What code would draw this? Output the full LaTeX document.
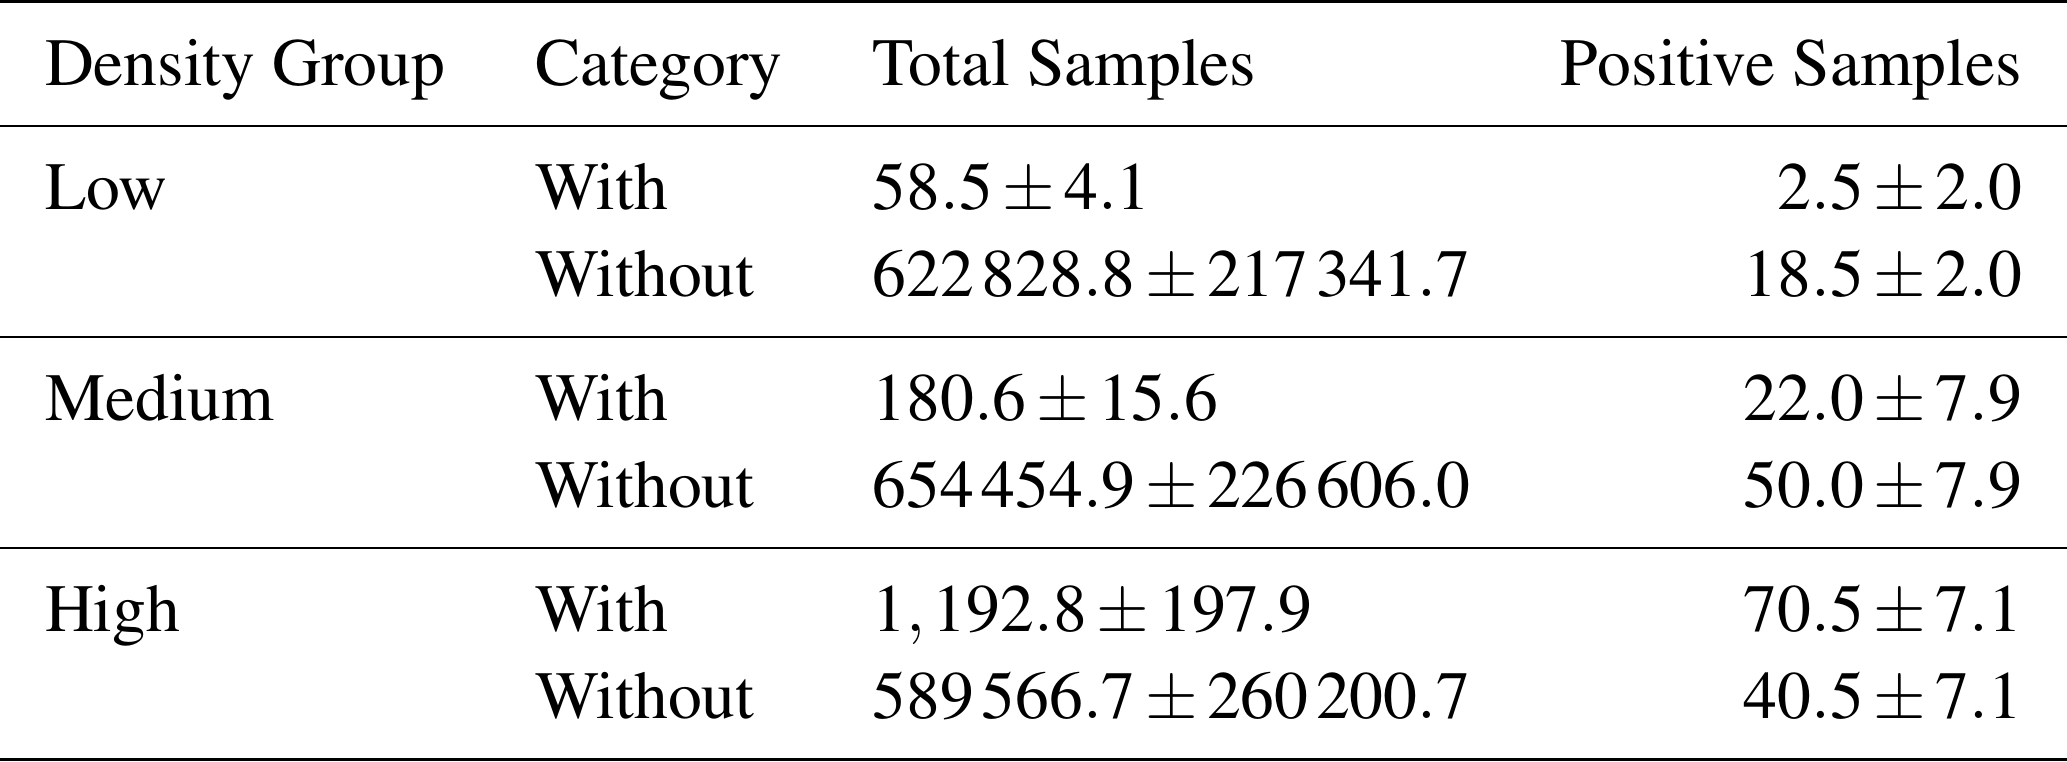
\documentclass[border=0pt]{standalone}
\usepackage{pgfplots}
\pgfplotsset{compat=1.18}
\usepackage[T1]{fontenc}
\usepackage{mathptmx}
\usepackage{booktabs}
\setlength{\heavyrulewidth}{0.45pt}
\setlength{\lightrulewidth}{0.3pt}
\newcommand{\pmv}[2]{$#1\pm#2$}
\begin{document}
\begin{tikzpicture}
\node[inner sep=0pt] {\fontsize{9}{11.63}\selectfont
\begin{tabular}{lllr}
\toprule
Density Group & Category & Total Samples & Positive Samples\\
\midrule
Low & With & \pmv{58.5}{4.1} & \pmv{2.5}{2.0}\\
 & Without & \pmv{622\,828.8}{217\,341.7} & \pmv{18.5}{2.0}\\
\midrule
Medium & With & \pmv{180.6}{15.6} & \pmv{22.0}{7.9}\\
 & Without & \pmv{654\,454.9}{226\,606.0} & \pmv{50.0}{7.9}\\
\midrule
High & With & \pmv{1,192.8}{197.9} & \pmv{70.5}{7.1}\\
 & Without & \pmv{589\,566.7}{260\,200.7} & \pmv{40.5}{7.1}\\
\bottomrule
\end{tabular}};
\end{tikzpicture}
\end{document}
